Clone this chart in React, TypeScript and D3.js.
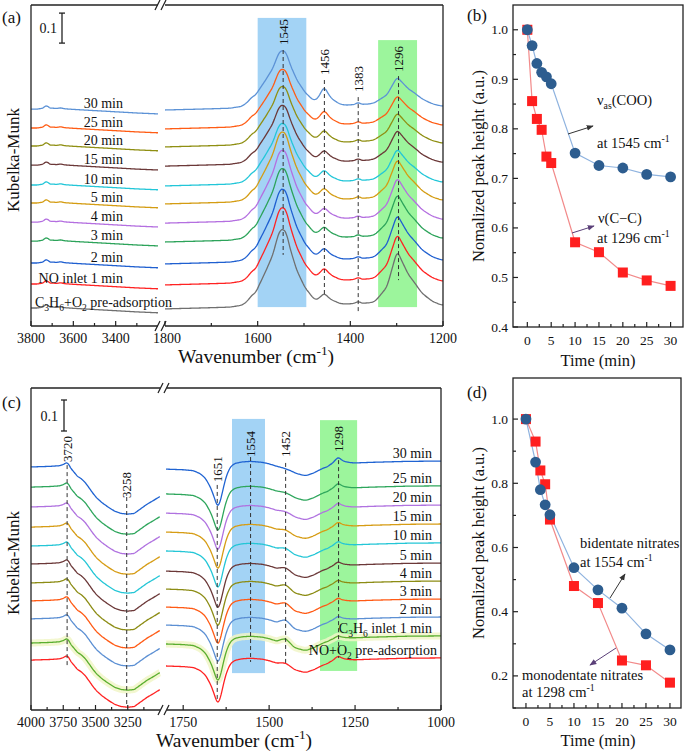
import React from 'react';
import * as d3 from 'd3';

const FONT = '"Liberation Serif","Times New Roman",Times,serif';

// ---------------- Panel (a): C3H6+O2 pre-adsorbed, then NO ----------------
const aLabels = ['C_{3}H_{6}+O_{2} pre-adsorption', 'NO inlet 1 min', '2 min', '3 min', '4 min', '5 min', '10 min', '15 min', '20 min', '25 min', '30 min'];
const aColors = ['#6f6f6f', '#ff2222', '#1f5fd0', '#2ca35a', '#b46fe0', '#d49c12', '#22c6d8', '#6b3838', '#8f8f12', '#ff5c14', '#5c92d6'];
const aOffsets = [0.057, 0.137, 0.207, 0.28, 0.343, 0.407, 0.467, 0.533, 0.597, 0.657, 0.72];
const a1545Ref = 0.228;
const a1296Ref = 0.162;
const a1456Amp = [0.03, 0.035, 0.032, 0.03, 0.03, 0.032, 0.032, 0.032, 0.035, 0.04, 0.055];
const aLeftProfile = [[3800, 0.003], [3770, 0.003], [3745, 0.006], [3730, 0.014], [3720, 0.012], [3710, 0.006], [3695, 0.006], [3680, 0.005], [3660, 0.007], [3640, 0.004], [3600, 0.002], [3500, -0.002], [3400, -0.006], [3300, -0.01], [3200, -0.013]];
const aRestProfile = [[1800, 0], [1750, 0.002], [1700, 0.004], [1660, 0.006], [1635, 0.012], [1622, 0.025], [1612, 0.038], [1600, 0.042], [1570, 0.04], [1540, 0.038], [1510, 0.034], [1490, 0.028], [1475, 0.022], [1456, 0.022], [1435, 0.02], [1420, 0.016], [1400, 0.017], [1390, 0.019], [1383, 0.026], [1376, 0.019], [1360, 0.02], [1340, 0.027], [1300, 0.032], [1260, 0.028], [1230, 0.018], [1200, 0.013]];
const a1545Shape = [[1625, 0], [1604, 0.06], [1584, 0.35], [1567, 0.62], [1558, 0.86], [1552, 0.98], [1545, 1], [1538, 0.95], [1530, 0.72], [1515, 0.4], [1498, 0.18], [1476, 0.02], [1465, 0]];
const a1296Shape = [[1348, 0], [1340, 0.06], [1321, 0.27], [1308, 0.7], [1299, 1.0], [1288, 0.78], [1275, 0.53], [1256, 0.3], [1245, 0.18], [1222, 0.05], [1205, 0]];
const a1456Shape = [[1482, 0], [1470, 0.3], [1462, 0.75], [1456, 1], [1450, 0.7], [1440, 0.3], [1425, 0.08], [1410, 0]];
const aMarks = [
  { wn: 1545, top: 0.92, bottom: 0.237, label: 0.937 },
  { wn: 1456, top: 0.82, bottom: 0.097, label: 0.837 },
  { wn: 1383, top: 0.763, bottom: 0.043, label: 0.78 },
  { wn: 1296, top: 0.833, bottom: 0.153, label: 0.847 },
];
const aTicksL = [3800, 3600, 3400];
const aMinorL = [3700, 3500, 3300];
const aTicksR = [1800, 1600, 1400, 1200];
const aMinorR = [1700, 1500, 1300];

// ---------------- Panel (b) ----------------
const bTimes = [0, 1, 2, 3, 4, 5, 10, 15, 20, 25, 30];
const bCOO = [1.0, 0.968, 0.932, 0.914, 0.905, 0.891, 0.751, 0.726, 0.721, 0.708, 0.703];
const bCC = [1.0, 0.856, 0.82, 0.798, 0.744, 0.731, 0.571, 0.551, 0.51, 0.494, 0.483];
const bYTicks = [0.4, 0.5, 0.6, 0.7, 0.8, 0.9, 1.0];
const bYMinor = [0.45, 0.55, 0.65, 0.75, 0.85, 0.95];
const bXTicks = [0, 5, 10, 15, 20, 25, 30];
const bXMinor = [2.5, 7.5, 12.5, 17.5, 22.5, 27.5];

// ---------------- Panel (c): NO+O2 pre-adsorbed, then C3H6 ----------------
const cLabels = ['NO+O_{2} pre-adsorption', 'C_{3}H_{6} inlet 1 min', '2 min', '3 min', '4 min', '5 min', '10 min', '15 min', '20 min', '25 min', '30 min'];
const cColors = ['#ff2222', '#5aae2e', '#5b8fd3', '#ff5a14', '#8c8c14', '#6b3838', '#24c6d6', '#d69c14', '#b072e0', '#2ea65c', '#1f63d2'];
const cOffsetsL = [0.161, 0.216, 0.294, 0.352, 0.41, 0.471, 0.529, 0.59, 0.655, 0.719, 0.784];
const cOffsetsR = [0.142, 0.213, 0.274, 0.332, 0.39, 0.448, 0.513, 0.574, 0.635, 0.697, 0.777];
const c1452Amp = [0.008, 0.016, 0.016, 0.013, 0.013, 0.01, 0.008, 0.006, 0.004, 0.003, 0.0];
const c1298Amp = [0.016, 0.01, 0.012, 0.013, 0.013, 0.014, 0.015, 0.016, 0.017, 0.018, 0.022];
const cLeftProfile = [[4000, 0], [3850, 0.002], [3780, 0.004], [3750, 0.008], [3725, 0.014], [3710, 0.01], [3690, -0.005], [3660, -0.02], [3640, -0.03], [3610, -0.038], [3580, -0.05], [3545, -0.07], [3520, -0.085], [3490, -0.1], [3450, -0.115], [3400, -0.13], [3350, -0.143], [3300, -0.15], [3250, -0.152], [3200, -0.15], [3150, -0.135], [3100, -0.12], [3050, -0.108], [3000, -0.095]];
const cRestProfile = [[1800, 0], [1750, -0.002], [1720, -0.005], [1700, -0.015], [1685, -0.03], [1670, -0.06], [1660, -0.09], [1651, -0.12], [1645, -0.115], [1638, -0.085], [1630, -0.045], [1622, -0.015], [1612, 0.008], [1600, 0.018], [1580, 0.023], [1554, 0.025], [1520, 0.022], [1500, 0.017], [1480, 0.01], [1460, 0.004], [1440, -0.004], [1420, -0.014], [1400, -0.02], [1390, -0.02], [1370, -0.012], [1345, 0.002], [1320, 0.012], [1300, 0.016], [1280, 0.018], [1250, 0.02], [1200, 0.022], [1100, 0.025], [1000, 0.026]];
const c1452Shape = [[1478, 0], [1464, 0.6], [1452, 1], [1442, 0.6], [1428, 0]];
const c1298Shape = [[1330, 0], [1315, 0.3], [1305, 0.8], [1298, 1], [1290, 0.6], [1280, 0.3], [1265, 0.1], [1250, 0]];
const cMarksL = [
  { wn: 3720, top: 0.79, bottom: 0.139, label: 0.8 },
  { wn: 3258, top: 0.687, bottom: 0.01, label: 0.684 },
];
const cMarksR = [
  { wn: 1651, top: 0.726, bottom: 0.032, label: 0.735 },
  { wn: 1554, top: 0.816, bottom: 0.155, label: 0.816 },
  { wn: 1452, top: 0.797, bottom: 0.145, label: 0.816 },
  { wn: 1298, top: 0.806, bottom: 0.168, label: 0.832 },
];
const cTicksL = [4000, 3750, 3500, 3250];
const cMinorL = [3875, 3625, 3375, 3125];
const cTicksR = [1750, 1500, 1250, 1000];
const cMinorR = [1625, 1375, 1125];

// ---------------- Panel (d) ----------------
const dTimes = [0, 2, 3, 4, 5, 10, 15, 20, 25, 30];
const dBi = [1.0, 0.866, 0.78, 0.733, 0.702, 0.537, 0.468, 0.411, 0.331, 0.281];
const dMono = [1.0, 0.93, 0.84, 0.797, 0.687, 0.48, 0.427, 0.248, 0.233, 0.179];
const dYTicks = [0.2, 0.4, 0.6, 0.8, 1.0];
const dYMinor = [0.1, 0.3, 0.5, 0.7, 0.9];

// ---------------- helpers ----------------
function profile(pts: number[][]) {
  return d3.scaleLinear().domain(pts.map((p) => p[0])).range(pts.map((p) => p[1])).clamp(true);
}
function smooth(v: number[], k = 2) {
  return v.map((_, i) => d3.mean(v.slice(Math.max(0, i - k), Math.min(v.length, i + k + 1))) as number);
}

function Rich({ text, fs }: { text: string; fs: number }) {
  const parts = text.split(/(_\{[^}]*\}|\^\{[^}]*\})/).filter((p) => p.length);
  let shift = 0;
  return (
    <>
      {parts.map((p, i) => {
        if (p.startsWith('_{')) {
          const dy = fs * 0.28 - shift;
          shift = fs * 0.28;
          return <tspan key={i} dy={dy} fontSize={fs * 0.68}>{p.slice(2, -1)}</tspan>;
        }
        if (p.startsWith('^{')) {
          const dy = -fs * 0.4 - shift;
          shift = -fs * 0.4;
          return <tspan key={i} dy={dy} fontSize={fs * 0.68}>{p.slice(2, -1)}</tspan>;
        }
        const dy = -shift;
        shift = 0;
        return <tspan key={i} dy={dy}>{p}</tspan>;
      })}
    </>
  );
}

const INK = '#222';

function BreakMarks({ x, y }: { x: number; y: number }) {
  return (
    <g stroke={INK} strokeWidth={1.2}>
      <line x1={x - 3} y1={y + 5} x2={x + 2} y2={y - 5} />
      <line x1={x + 3} y1={y + 5} x2={x + 8} y2={y - 5} />
    </g>
  );
}

export default function App() {
  const xaL = d3.scaleLinear().domain([3800, 3200]).range([31, 158]);
  const xaR = d3.scaleLinear().domain([1800, 1200]).range([165, 443]);
  const ya = d3.scaleLinear().domain([0, 1.07]).range([326, 5]);
  const xcL = d3.scaleLinear().domain([4000, 3000]).range([31, 160]);
  const xcR = d3.scaleLinear().domain([1800, 1000]).range([166, 441]);
  const yc = d3.scaleLinear().domain([0, 322 / 310]).range([710, 388]);
  const xb = d3.scaleLinear().domain([-3, 32.6]).range([513, 683]);
  const yb = d3.scaleLinear().domain([0.4, 1.05]).range([327, 5]);
  const xd = d3.scaleLinear().domain([-2.7, 32.3]).range([513, 681]);
  const yd = d3.scaleLinear().domain([0.1, 1.128]).range([708, 378]);

  const aL = profile(aLeftProfile);
  const aR = profile(aRestProfile);
  const aA = profile(a1545Shape);
  const aB = profile(a1296Shape);
  const aC = profile(a1456Shape);
  const gridAL = d3.range(3800, 3199, -2);
  const gridAR = d3.range(1800, 1199, -2);
  const lineAL = d3.line<number[]>().x((d) => xaL(d[0])).y((d) => ya(d[1]));
  const lineAR = d3.line<number[]>().x((d) => xaR(d[0])).y((d) => ya(d[1]));
  const aPaths = aLabels.map((_, i) => {
    const vl = smooth(gridAL.map((w) => aOffsets[i] + aL(w)));
    const vr = smooth(
      gridAR.map((w) => aOffsets[i] + aR(w) + a1545Ref * bCOO[i] * aA(w) + a1296Ref * bCC[i] * aB(w) + a1456Amp[i] * aC(w))
    );
    return {
      left: lineAL(gridAL.map((w, j) => [w, vl[j]])) as string,
      right: lineAR(gridAR.map((w, j) => [w, vr[j]])) as string,
      labelY: ya(aOffsets[i] + aL(3370)) - 4,
    };
  });

  const cL = profile(cLeftProfile);
  const cR = profile(cRestProfile);
  const cC = profile(c1452Shape);
  const cB = profile(c1298Shape);
  const gridCL = d3.range(4000, 2999, -3);
  const gridCR = d3.range(1800, 999, -2);
  const lineCL = d3.line<number[]>().x((d) => xcL(d[0])).y((d) => yc(d[1]));
  const lineCR = d3.line<number[]>().x((d) => xcR(d[0])).y((d) => yc(d[1]));
  const cPaths = cLabels.map((_, i) => {
    const vl = smooth(gridCL.map((w) => cOffsetsL[i] + cL(w)));
    const vr = smooth(gridCR.map((w) => cOffsetsR[i] + cR(w) + c1452Amp[i] * cC(w) + c1298Amp[i] * cB(w)));
    return {
      left: lineCL(gridCL.map((w, j) => [w, vl[j]])) as string,
      right: lineCR(gridCR.map((w, j) => [w, vr[j]])) as string,
      labelY: yc(cOffsetsR[i] + cR(1000)) - 3,
    };
  });

  const lineB = (ys: number[], xs: number[], sx: any, sy: any) =>
    d3.line<number>().x((_, j) => sx(xs[j])).y((d) => sy(d))(ys) as string;

  const tickFs = 14;
  const smallFs = 13.5;
  const titleFs = 19.5;

  return (
    <svg
      width={685}
      height={752}
      style={{ position: 'absolute', left: 0, top: 0, background: '#fff', fontFamily: FONT }}
      fontFamily={FONT}
    >
      <defs>
        <marker id="arrDark" viewBox="0 0 10 10" refX="9" refY="5" markerWidth="7" markerHeight="7" orient="auto">
          <path d="M0,1 L10,5 L0,9 z" fill="#333" />
        </marker>
        <marker id="arrPurple" viewBox="0 0 10 10" refX="9" refY="5" markerWidth="7" markerHeight="7" orient="auto">
          <path d="M0,1 L10,5 L0,9 z" fill="#5a3f78" />
        </marker>
      </defs>

      {/* ================= Panel (a) ================= */}
      <g>
        <rect x={xaR(1600)} y={ya(1.027)} width={xaR(1495) - xaR(1600)} height={ya(0.063) - ya(1.027)} fill="#a3d3f5" />
        <rect x={xaR(1340)} y={ya(0.953)} width={xaR(1256) - xaR(1340)} height={ya(0.063) - ya(0.953)} fill="#9cf59c" />
        {aPaths.map((p, i) => (
          <g key={i} fill="none" stroke={aColors[i]} strokeWidth={1.3}>
            <path d={p.left} />
            <path d={p.right} />
          </g>
        ))}
        {aMarks.map((m, i) => (
          <g key={i}>
            <line x1={xaR(m.wn)} x2={xaR(m.wn)} y1={ya(m.top)} y2={ya(m.bottom)} stroke="#333" strokeWidth={1} strokeDasharray="4,3" />
            <text transform={`translate(${xaR(m.wn) + 4.5},${ya(m.label)}) rotate(-90)`} fontSize={13} fill="#111">{m.wn}</text>
          </g>
        ))}
        {aLabels.map((l, i) => (
          <text key={i} x={i === 0 ? 35 : 123} y={aPaths[i].labelY} textAnchor={i === 0 ? 'start' : 'end'} fontSize={14} fill="#111">
            <Rich text={l} fs={14} />
          </text>
        ))}
        <g stroke={INK} strokeWidth={1.3}>
          <line x1={62} x2={62} y1={ya(1.043)} y2={ya(0.943)} />
          <line x1={59} x2={65} y1={ya(1.043)} y2={ya(1.043)} />
          <line x1={59} x2={65} y1={ya(0.943)} y2={ya(0.943)} />
        </g>
        <text x={57} y={ya(0.993) + 5} textAnchor="end" fontSize={14} fill="#111">0.1</text>
        <g stroke={INK} strokeWidth={1.3} fill="none">
          <line x1={31} x2={31} y1={5} y2={326} />
          <line x1={443} x2={443} y1={5} y2={326} />
          <line x1={31} x2={158} y1={5} y2={5} />
          <line x1={165} x2={443} y1={5} y2={5} />
          <line x1={31} x2={158} y1={326} y2={326} />
          <line x1={165} x2={443} y1={326} y2={326} />
        </g>
        <BreakMarks x={158} y={5} />
        <BreakMarks x={158} y={326} />
        <g stroke={INK} strokeWidth={1.2}>
          {aTicksL.map((t) => <line key={'a' + t} x1={xaL(t)} x2={xaL(t)} y1={326} y2={321} />)}
          {aMinorL.map((t) => <line key={'b' + t} x1={xaL(t)} x2={xaL(t)} y1={326} y2={323} />)}
          {aTicksR.map((t) => <line key={'c' + t} x1={xaR(t)} x2={xaR(t)} y1={326} y2={321} />)}
          {aMinorR.map((t) => <line key={'d' + t} x1={xaR(t)} x2={xaR(t)} y1={326} y2={323} />)}
        </g>
        {aTicksL.map((t) => <text key={'l' + t} x={xaL(t)} y={343} textAnchor="middle" fontSize={tickFs} fill="#111">{t}</text>)}
        {aTicksR.map((t) => <text key={'r' + t} x={t === 1800 ? 167 : xaR(t)} y={343} textAnchor="middle" fontSize={tickFs} fill="#111">{t}</text>)}
        <text x={256} y={363} textAnchor="middle" fontSize={titleFs} fill="#111"><Rich text="Wavenumber (cm^{-1})" fs={titleFs} /></text>
        <text transform="translate(19,160) rotate(-90)" textAnchor="middle" fontSize={17} fill="#111">Kubelka-Munk</text>
        <text x={2} y={23} fontSize={17} fill="#111">(a)</text>
      </g>

      {/* ================= Panel (b) ================= */}
      <g>
        <path d={lineB(bCOO, bTimes, xb, yb)} fill="none" stroke="#8fb3df" strokeWidth={1.2} />
        <path d={lineB(bCC, bTimes, xb, yb)} fill="none" stroke="#f28a8a" strokeWidth={1.2} />
        {bCC.map((v, i) => <rect key={i} x={xb(bTimes[i]) - 5} y={yb(v) - 5} width={10} height={10} fill="#ff1f1f" />)}
        {bCOO.map((v, i) => <circle key={i} cx={xb(bTimes[i])} cy={yb(v)} r={5.4} fill="#2d5d8f" />)}
        <rect x={513} y={5} width={170} height={322} stroke={INK} strokeWidth={1.3} fill="none" />
        <g stroke={INK} strokeWidth={1.2}>
          {bYTicks.map((t) => <line key={'y' + t} x1={513} x2={518} y1={yb(t)} y2={yb(t)} />)}
          {bYMinor.map((t) => <line key={'m' + t} x1={513} x2={516} y1={yb(t)} y2={yb(t)} />)}
          {bXTicks.map((t) => <line key={'x' + t} x1={xb(t)} x2={xb(t)} y1={327} y2={322} />)}
          {bXMinor.map((t) => <line key={'n' + t} x1={xb(t)} x2={xb(t)} y1={327} y2={324} />)}
        </g>
        {bYTicks.map((t) => <text key={t} x={508} y={yb(t) + 4.5} textAnchor="end" fontSize={smallFs} fill="#111">{d3.format('.1f')(t)}</text>)}
        {bXTicks.map((t) => <text key={t} x={xb(t)} y={345} textAnchor="middle" fontSize={smallFs} fill="#111">{t}</text>)}
        <text x={598} y={366} textAnchor="middle" fontSize={16.5} fill="#111">Time (min)</text>
        <text transform="translate(484,166) rotate(-90)" textAnchor="middle" fontSize={16.5} fill="#111">Nomalized peak height (a.u.)</text>
        <text x={467} y={21} fontSize={17} fill="#111">(b)</text>
        <text x={597} y={105} fontSize={14.5} fill="#111"><Rich text="ν_{as}(COO)" fs={14.5} /></text>
        <text x={597} y={148} fontSize={14.5} fill="#111"><Rich text="at 1545 cm^{-1}" fs={14.5} /></text>
        <text x={598} y={223} fontSize={14.5} fill="#111">ν(C−C)</text>
        <text x={597} y={243} fontSize={14.5} fill="#111"><Rich text="at 1296 cm^{-1}" fs={14.5} /></text>
        <line x1={568} y1={134} x2={593} y2={126} stroke="#333" strokeWidth={1} markerEnd="url(#arrDark)" />
        <line x1={572} y1={233} x2={594} y2={226} stroke="#5a3f78" strokeWidth={1} markerEnd="url(#arrPurple)" />
      </g>

      {/* ================= Panel (c) ================= */}
      <g>
        <rect x={xcR(1608)} y={yc(0.939)} width={xcR(1512) - xcR(1608)} height={yc(0.119) - yc(0.939)} fill="#a3d3f5" />
        <rect x={xcR(1352)} y={yc(0.935)} width={xcR(1244) - xcR(1352)} height={yc(0.126) - yc(0.935)} fill="#9cf59c" />
        {cPaths.map((p, i) =>
          i === 1 ? (
            <g key={'h' + i} fill="none" stroke="#f1f6c8" strokeWidth={7} opacity={0.85}>
              <path d={p.left} />
              <path d={p.right} />
            </g>
          ) : null
        )}
        {cPaths.map((p, i) => (
          <g key={i} fill="none" stroke={cColors[i]} strokeWidth={1.3}>
            <path d={p.left} />
            <path d={p.right} />
          </g>
        ))}
        {cMarksL.map((m, i) => (
          <g key={i}>
            <line x1={xcL(m.wn)} x2={xcL(m.wn)} y1={yc(m.top)} y2={yc(m.bottom)} stroke="#333" strokeWidth={1} strokeDasharray="4,3" />
            <text transform={`translate(${xcL(m.wn) + 4.5},${yc(m.label)}) rotate(-90)`} fontSize={13} fill="#111">{m.wn}</text>
          </g>
        ))}
        {cMarksR.map((m, i) => (
          <g key={i}>
            <line x1={xcR(m.wn)} x2={xcR(m.wn)} y1={yc(m.top)} y2={yc(m.bottom)} stroke="#333" strokeWidth={1} strokeDasharray="4,3" />
            <text transform={`translate(${xcR(m.wn) + 4.5},${yc(m.label)}) rotate(-90)`} fontSize={13} fill="#111">{m.wn}</text>
          </g>
        ))}
        {cLabels.map((l, i) => (
          <text key={i} x={i === 0 ? 437 : 432} y={cPaths[i].labelY} textAnchor="end" fontSize={14} fill="#111">
            <Rich text={l} fs={14} />
          </text>
        ))}
        <g stroke={INK} strokeWidth={1.3}>
          <line x1={64} x2={64} y1={yc(1.0)} y2={yc(0.9)} />
          <line x1={61} x2={67} y1={yc(1.0)} y2={yc(1.0)} />
          <line x1={61} x2={67} y1={yc(0.9)} y2={yc(0.9)} />
        </g>
        <text x={58} y={yc(0.95) + 5} textAnchor="end" fontSize={14} fill="#111">0.1</text>
        <g stroke={INK} strokeWidth={1.3} fill="none">
          <line x1={31} x2={31} y1={388} y2={710} />
          <line x1={441} x2={441} y1={388} y2={710} />
          <line x1={31} x2={160} y1={388} y2={388} />
          <line x1={167} x2={441} y1={388} y2={388} />
          <line x1={31} x2={160} y1={710} y2={710} />
          <line x1={167} x2={441} y1={710} y2={710} />
        </g>
        <BreakMarks x={161} y={388} />
        <BreakMarks x={161} y={710} />
        <g stroke={INK} strokeWidth={1.2}>
          {cTicksL.map((t) => <line key={'a' + t} x1={xcL(t)} x2={xcL(t)} y1={710} y2={705} />)}
          {cMinorL.map((t) => <line key={'b' + t} x1={xcL(t)} x2={xcL(t)} y1={710} y2={707} />)}
          {cTicksR.map((t) => <line key={'c' + t} x1={xcR(t)} x2={xcR(t)} y1={710} y2={705} />)}
          {cMinorR.map((t) => <line key={'d' + t} x1={xcR(t)} x2={xcR(t)} y1={710} y2={707} />)}
        </g>
        {cTicksL.map((t) => <text key={'l' + t} x={xcL(t)} y={727} textAnchor="middle" fontSize={tickFs} fill="#111">{t}</text>)}
        {cTicksR.map((t) => <text key={'r' + t} x={xcR(t)} y={727} textAnchor="middle" fontSize={tickFs} fill="#111">{t}</text>)}
        <text x={234} y={747} textAnchor="middle" fontSize={titleFs} fill="#111"><Rich text="Wavenumber (cm^{-1})" fs={titleFs} /></text>
        <text transform="translate(19,563) rotate(-90)" textAnchor="middle" fontSize={17} fill="#111">Kubelka-Munk</text>
        <text x={2} y={408} fontSize={17} fill="#111">(c)</text>
      </g>

      {/* ================= Panel (d) ================= */}
      <g>
        <path d={lineB(dBi, dTimes, xd, yd)} fill="none" stroke="#8fb3df" strokeWidth={1.2} />
        <path d={lineB(dMono, dTimes, xd, yd)} fill="none" stroke="#f28a8a" strokeWidth={1.2} />
        {dMono.map((v, i) => <rect key={i} x={xd(dTimes[i]) - 5} y={yd(v) - 5} width={10} height={10} fill="#ff1f1f" />)}
        {dBi.map((v, i) => <circle key={i} cx={xd(dTimes[i])} cy={yd(v)} r={5.4} fill="#2d5d8f" />)}
        <rect x={513} y={378} width={168} height={330} stroke={INK} strokeWidth={1.3} fill="none" />
        <g stroke={INK} strokeWidth={1.2}>
          {dYTicks.map((t) => <line key={'y' + t} x1={513} x2={518} y1={yd(t)} y2={yd(t)} />)}
          {dYMinor.map((t) => <line key={'m' + t} x1={513} x2={516} y1={yd(t)} y2={yd(t)} />)}
          {bXTicks.map((t) => <line key={'x' + t} x1={xd(t)} x2={xd(t)} y1={708} y2={703} />)}
          {bXMinor.map((t) => <line key={'n' + t} x1={xd(t)} x2={xd(t)} y1={708} y2={705} />)}
        </g>
        {dYTicks.map((t) => <text key={t} x={508} y={yd(t) + 4.5} textAnchor="end" fontSize={smallFs} fill="#111">{d3.format('.1f')(t)}</text>)}
        {bXTicks.map((t) => <text key={t} x={xd(t)} y={726} textAnchor="middle" fontSize={smallFs} fill="#111">{t}</text>)}
        <text x={598} y={746} textAnchor="middle" fontSize={16.5} fill="#111">Time (min)</text>
        <text transform="translate(484,543) rotate(-90)" textAnchor="middle" fontSize={16.5} fill="#111">Nomalized peak height (a.u.)</text>
        <text x={467} y={398} fontSize={17} fill="#111">(d)</text>
        <text x={580} y={548} fontSize={14.5} fill="#111">bidentate nitrates</text>
        <text x={580} y={567} fontSize={14.5} fill="#111"><Rich text="at 1554 cm^{-1}" fs={14.5} /></text>
        <text x={522} y={680} fontSize={14.5} fill="#111">monodentate nitrates</text>
        <text x={522} y={697} fontSize={14.5} fill="#111"><Rich text="at 1298 cm^{-1}" fs={14.5} /></text>
        <line x1={610} y1={598} x2={625} y2={574} stroke="#333" strokeWidth={1} markerEnd="url(#arrDark)" />
        <line x1={616} y1={648} x2={590} y2={665} stroke="#5a3f78" strokeWidth={1} markerEnd="url(#arrPurple)" />
      </g>
    </svg>
  );
}
